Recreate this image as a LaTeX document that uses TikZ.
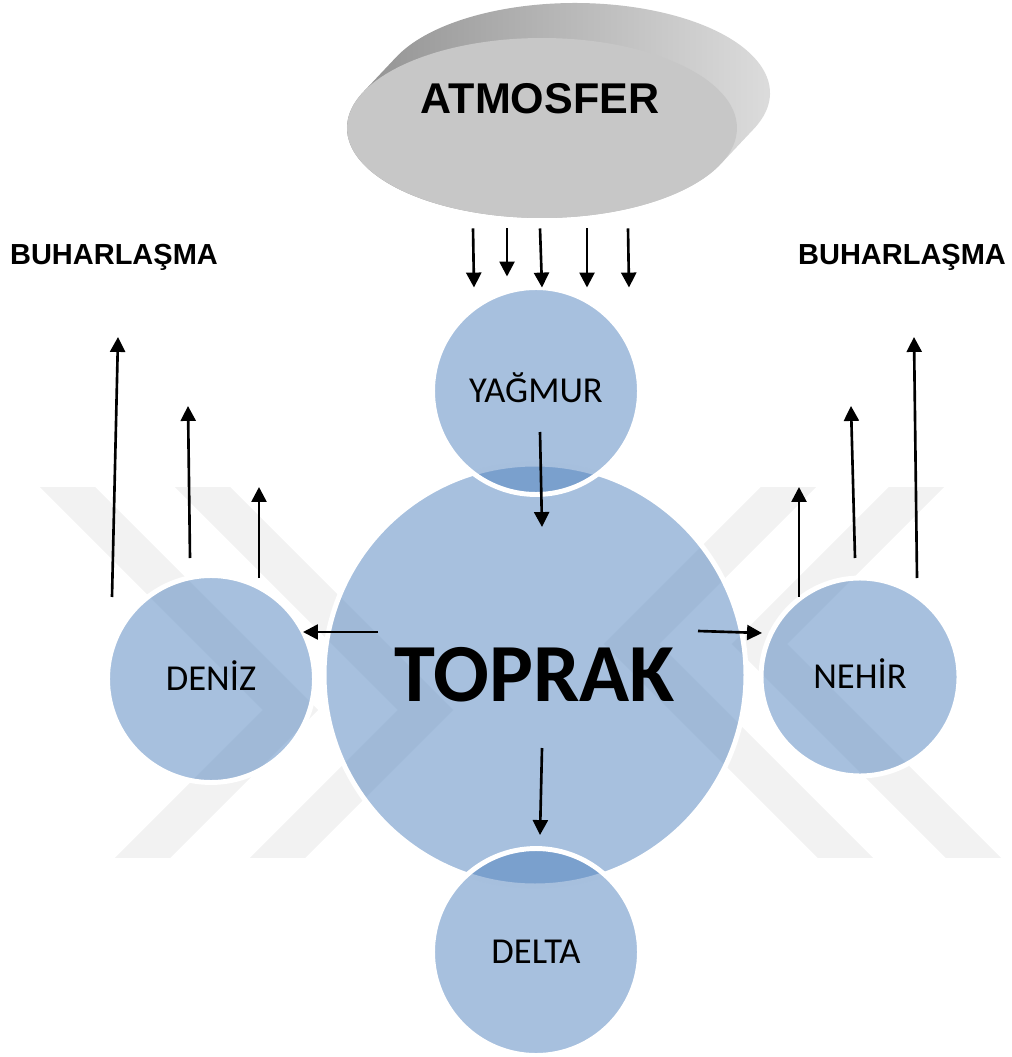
\documentclass[tikz,border=0pt]{standalone}
\usepackage{fontspec}
\setmainfont{Carlito}
\newfontfamily\arialfont{Liberation Sans}
\usepackage{tikz}
\usetikzlibrary{shapes.geometric, arrows.meta, calc}
\definecolor{bubbleblue}{RGB}{79,129,189}
\tikzset{
  bubble/.style={circle, fill=bubbleblue, fill opacity=0.5, text opacity=1, draw=white, draw opacity=1, line width=2.8pt, inner sep=0pt, outer sep=0pt, minimum size=#1, font=\fontsize{20.8}{24}\selectfont, text height=13.4pt, text depth=0pt},
  arr/.style={-{Triangle[length=8.5pt,width=8.5pt]}, line width=1.5pt},
  vapour/.style={font=\arialfont\bfseries\fontsize{16.5}{20}\selectfont, inner sep=0pt, anchor=base},
  wmark/.style={draw=black!5, line width=0.78cm, line join=miter}
}

\begin{document}
\begin{tikzpicture}[x=0.02cm, y=-0.02cm]
\useasboundingbox (0,0) rectangle (1011,1057);

\begin{scope}
\clip (0,487) rectangle (1011,857);
\draw [wmark] (47.5,467) -- (290.5,710) -- (123.5,877);
\draw [wmark] (182.5,467) -- (425.5,710) -- (258.5,877);
\draw [wmark] (808.5,467) -- (631.5,644) -- (864.5,877);
\draw [wmark] (936.5,467) -- (759.5,644) -- (992.5,877);
\end{scope}

\coordinate (A) at (542,128);
\coordinate (T) at (535,675);
\coordinate (Y) at (536,391);
\coordinate (D) at (211,679);
\coordinate (N) at (860,677);
\coordinate (L) at (536,952);

\shade [left color=black!45, right color=black!12] (753.8,128.9) arc [start angle=23.5, end angle=-156.5, x radius=195, y radius=90] -- (363.2,92.1) arc [start angle=203.5, end angle=23.5, x radius=195, y radius=90] -- cycle;
\node [ellipse, fill=black!22, minimum width=7.8cm, minimum height=3.6cm, inner sep=0pt, outer sep=0pt] (atm) at (A) {};
\node [font=\arialfont\bfseries\fontsize{24.5}{29}\selectfont] (atmtext) at (540,99) {ATMOSFER};

\node [bubble=8.44cm, font=\bfseries\fontsize{47}{51}\selectfont, text height=30.2pt] (toprak) at (T) {TOPRAK};
\node [bubble=4.14cm] (yagmur) at (Y) {YAĞMUR};
\node [bubble=4.14cm] (deniz) at (D) {DENİZ};
\node [bubble=3.96cm] (nehir) at (N) {NEHİR};
\node [bubble=4.14cm] (delta) at (L) {DELTA};

\node [vapour] (buhL) at (114,265) {BUHARLAŞMA};
\node [vapour] (buhR) at (902,265) {BUHARLAŞMA};

\foreach \a/\b/\c in {-69/-62/0, -35/-29/-11, -2/6/0, 45/51/0, 86/93/0}
  \draw [arr] ($ (atm.south) + (\a,10.5) $) -- ($ (yagmur.north) + (\b,\c) $);

\draw [arr] ($ (yagmur) + (4,41) $) -- ($ (toprak) + (7,-148) $);
\draw [arr] ($ (toprak) + (-157,-43) $) -- ($ (deniz) + (92,-47) $);
\draw [arr] ($ (toprak) + (163,-44) $) -- ($ (nehir) + (-98,-44) $);
\draw [arr] ($ (toprak) + (7,73) $) -- ($ (delta) + (4,-117) $);

\coordinate (e1) at (118,337);
\coordinate (e2) at (188,406);
\coordinate (e3) at (259,487);
\coordinate (e4) at (799,487);
\coordinate (e5) at (851,406);
\coordinate (e6) at (914,337);
\draw [arr] ($ (deniz) + (-99,-82) $) -- (e1);
\draw [arr] ($ (deniz) + (-21,-121) $) -- (e2);
\draw [arr] ($ (deniz) + (48,-101) $) -- (e3);
\draw [arr] ($ (nehir) + (-61,-80) $) -- (e4);
\draw [arr] ($ (nehir) + (-5,-119) $) -- (e5);
\draw [arr] ($ (nehir) + (57,-99) $) -- (e6);
\end{tikzpicture}
\end{document}
